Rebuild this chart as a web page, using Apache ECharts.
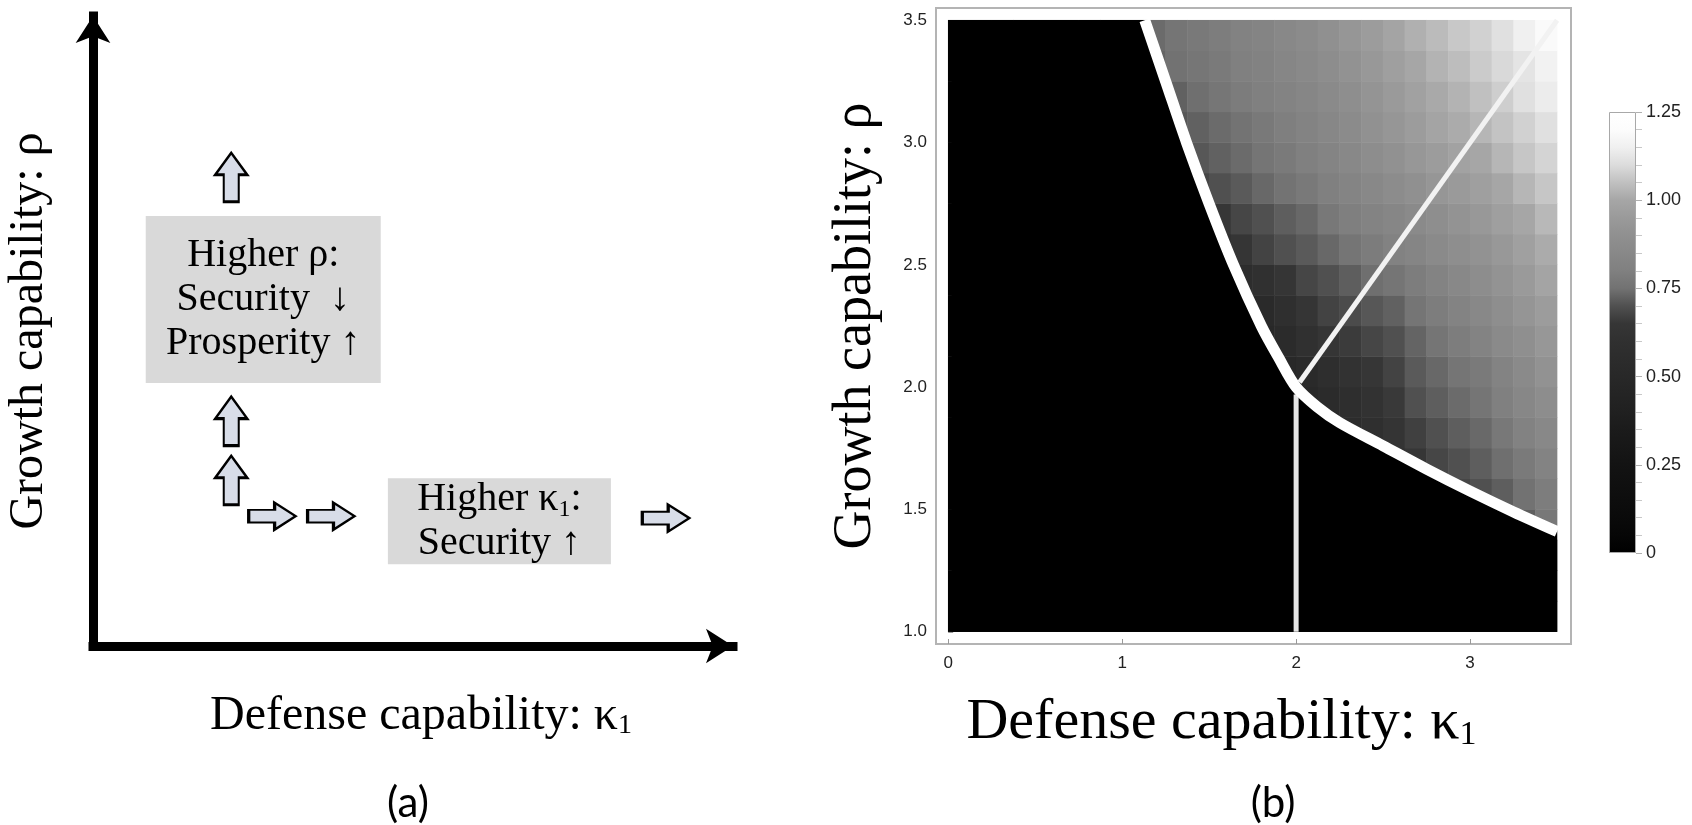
<!DOCTYPE html>
<html>
<head>
<meta charset="utf-8">
<script src="https://cdn.jsdelivr.net/npm/echarts@6.0.0/dist/echarts.min.js"></script>
<style>
  html, body { margin: 0; padding: 0; background: #fff; }
  #chart { width: 1692px; height: 825px; }
</style>
</head>
<body>
<div id="chart"></div>
<script>
// ---- panel (a): schematic ----
// block arrows [x, y, direction] in panel units (0..10)
const arrowsA = [
  [2.16, 7.44, 'up'],
  [2.16, 3.57, 'up'],
  [2.16, 2.63, 'up'],
  [2.80, 2.06, 'right'],
  [3.72, 2.06, 'right'],
  [8.95, 2.03, 'right']
]
const boxCentersA = [[2.66, 5.50], [6.35, 1.98]]
const boxTextsA = ['Higher ρ:\nSecurity  ↓\nProsperity ↑', 'Higher κ{s|1}:\nSecurity ↑']

// ---- panel (b): density plot ----
const kappaCenters = [0.0625, 0.1875, 0.3125, 0.4375, 0.5625, 0.6875, 0.8125, 0.9375, 1.0625, 1.1875, 1.3125, 1.4375, 1.5625, 1.6875,
  1.8125, 1.9375, 2.0625, 2.1875, 2.3125, 2.4375, 2.5625, 2.6875, 2.8125, 2.9375, 3.0625, 3.1875, 3.3125, 3.4375]
const rhoCenters = [1.0625, 1.1875, 1.3125, 1.4375, 1.5625, 1.6875, 1.8125, 1.9375, 2.0625, 2.1875,
  2.3125, 2.4375, 2.5625, 2.6875, 2.8125, 2.9375, 3.0625, 3.1875, 3.3125, 3.4375]
// shade[row of rho][col of kappa] (0 = black)
const shade = [
  [0,0,0,0,0,0,0,0,0,0,0,0,0,0,0,0,0,0,0,0,0,0,0,0,0,0,0,0],
  [0,0,0,0,0,0,0,0,0,0,0,0,0,0,0,0,0,0,0,0,0,0,0,0,0,0,0,0],
  [0,0,0,0,0,0,0,0,0,0,0,0,0,0,0,0,0,0,0,0,0,0,0,0,0,0,0,0],
  [0,0,0,0,0,0,0,0,0,0,0,0,0,0,0,0,0,0,0,0,0,0,0,0,0,.70,.72,.77],
  [0,0,0,0,0,0,0,0,0,0,0,0,0,0,0,0,0,0,0,0,0,0,.64,.68,.70,.72,.75,.79],
  [0,0,0,0,0,0,0,0,0,0,0,0,0,0,0,0,0,0,0,0,.60,.65,.68,.70,.72,.745,.78,.82],
  [0,0,0,0,0,0,0,0,0,0,0,0,0,0,0,0,0,.50,.55,.59,.63,.67,.70,.72,.737,.77,.81,.85],
  [0,0,0,0,0,0,0,0,0,0,0,0,0,0,0,0,.50,.54,.58,.62,.655,.70,.72,.74,.76,.80,.845,.88],
  [0,0,0,0,0,0,0,0,0,0,0,0,0,0,0,.50,.53,.58,.62,.65,.675,.715,.735,.76,.78,.82,.86,.91],
  [0,0,0,0,0,0,0,0,0,0,0,0,0,0,.50,.54,.60,.64,.66,.68,.70,.73,.76,.79,.82,.86,.895,.935],
  [0,0,0,0,0,0,0,0,0,0,0,0,0,.50,.52,.59,.645,.675,.69,.71,.725,.76,.79,.82,.85,.89,.925,.96],
  [0,0,0,0,0,0,0,0,0,0,0,0,0,.56,.60,.645,.68,.70,.72,.745,.76,.79,.82,.85,.88,.915,.95,.99],
  [0,0,0,0,0,0,0,0,0,0,0,0,.60,.64,.675,.70,.715,.735,.76,.785,.81,.83,.86,.885,.91,.94,.975,1.01],
  [0,0,0,0,0,0,0,0,0,0,0,0,.65,.68,.70,.72,.735,.77,.795,.82,.84,.86,.89,.915,.94,.97,1.00,1.035],
  [0,0,0,0,0,0,0,0,0,0,0,.68,.70,.715,.735,.755,.775,.80,.825,.85,.875,.90,.93,.95,.97,1.00,1.03,1.06],
  [0,0,0,0,0,0,0,0,0,0,.69,.71,.725,.74,.76,.78,.80,.825,.85,.88,.905,.935,.96,.985,1.00,1.03,1.06,1.085],
  [0,0,0,0,0,0,0,0,0,0,.71,.725,.74,.755,.775,.795,.82,.845,.87,.905,.93,.96,.99,1.01,1.03,1.055,1.08,1.11],
  [0,0,0,0,0,0,0,0,0,.72,.725,.745,.765,.785,.80,.82,.84,.865,.89,.92,.95,.98,1.005,1.025,1.05,1.075,1.11,1.14],
  [0,0,0,0,0,0,0,0,0,.73,.75,.765,.78,.80,.815,.835,.855,.88,.91,.94,.97,1.00,1.025,1.045,1.07,1.095,1.12,1.16],
  [0,0,0,0,0,0,0,0,0,.74,.76,.775,.79,.81,.825,.85,.87,.90,.93,.96,.99,1.02,1.04,1.065,1.08,1.11,1.15,1.19]
]
// white boundaries (kappa, rho)
const boundaryCurve = [[1.13, 3.5], [1.25, 3.25], [1.37, 3.0], [1.5, 2.75], [1.64, 2.5], [1.8, 2.25], [1.9, 2.12],
  [2.0, 2.0], [2.12, 1.92], [2.25, 1.855], [2.5, 1.76], [2.75, 1.665], [3.0, 1.575], [3.25, 1.49], [3.5, 1.41]]
const diagonalLine = [[2.02, 2.02], [3.5, 3.5]]
const verticalLine = [[2.0, 1.0], [2.0, 1.97]]
const blackCorners = [[3.5, 1.0], [0.02, 1.0], [0.02, 3.5]]

const xTicksB = [0, 1, 2, 3]
const yTicksB = [1.0, 1.5, 2.0, 2.5, 3.0, 3.5]
// colour scale, one stop every 0.05 from 0 to 1.25
const grayScale = ['#000000', '#060606', '#0a0a0a', '#0d0d0d', '#101010', '#131313', '#171717', '#1b1b1b', '#202020',
  '#242424', '#282828', '#2c2c2c', '#303030', '#363636', '#505050', '#727272', '#808080', '#888888', '#909090',
  '#9a9a9a', '#a6a6a6', '#c0c0c0', '#dcdcdc', '#f0f0f0', '#fcfcfc', '#ffffff']

const serif = 'Liberation Serif'
const sans = 'Liberation Sans'

const chart = echarts.init(document.getElementById('chart'))

const heatData = []
shade.forEach((row, j) => row.forEach((v, i) => heatData.push([i, j, v])))

const upPath = 'path://M16,0 L32,22 L23.5,22 L23.5,49 L8.5,49 L8.5,22 L0,22 Z'

// subscript style for rich text
const subRich = (size, lh) => ({ s: { fontFamily: serif, fontSize: size, lineHeight: lh, verticalAlign: 'bottom' } })

const option = {
  animation: false,
  backgroundColor: '#fff',
  grid: [
    { left: 93, top: 16, width: 640, height: 630 },
    { left: 936, top: 8, width: 635, height: 636, show: true, borderColor: '#b4b4b4', borderWidth: 2, backgroundColor: 'transparent' },
    { left: 948.2, top: 20.2, width: 608.9, height: 611.5 },
    { left: 1609, top: 112, width: 27, height: 441 }
  ],
  xAxis: [
    {
      gridIndex: 0, type: 'value', min: 0, max: 10,
      axisLine: { show: true, symbol: ['none', 'arrow'], symbolSize: [26, 27], lineStyle: { color: '#000', width: 9, cap: 'square' } },
      axisTick: { show: false }, axisLabel: { show: false }, splitLine: { show: false },
      name: 'Defense capability: κ{s|1}', nameLocation: 'middle', nameGap: 46,
      nameTextStyle: { fontFamily: serif, fontSize: 48, color: '#000', padding: [0, 0, 0, 16], rich: subRich(28, 18) }
    },
    {
      gridIndex: 1, type: 'value', min: -0.07, max: 3.58,
      axisLine: { show: false },
      axisTick: { show: true, inside: true, length: 5, lineStyle: { color: '#999' }, customValues: xTicksB },
      axisLabel: { customValues: xTicksB, fontFamily: sans, fontSize: 17, color: '#222', margin: 11 },
      splitLine: { show: false },
      name: 'Defense capability: κ{s|1}', nameLocation: 'middle', nameGap: 50,
      nameTextStyle: { fontFamily: serif, fontSize: 58, color: '#000', padding: [0, 64, 0, 0], rich: subRich(34, 22) }
    },
    { gridIndex: 2, type: 'category', data: kappaCenters, show: false },
    { gridIndex: 3, type: 'category', data: [''], show: false }
  ],
  yAxis: [
    {
      gridIndex: 0, type: 'value', min: 0, max: 10,
      axisLine: { show: true, symbol: ['none', 'arrow'], symbolSize: [26, 27], lineStyle: { color: '#000', width: 9, cap: 'square' } },
      axisTick: { show: false }, axisLabel: { show: false }, splitLine: { show: false },
      name: 'Growth capability: ρ', nameLocation: 'middle', nameGap: 40,
      nameTextStyle: { fontFamily: serif, fontSize: 48, color: '#000' }
    },
    {
      gridIndex: 1, type: 'value', min: 0.95, max: 3.55,
      axisLine: { show: false },
      axisTick: { show: true, inside: true, length: 5, lineStyle: { color: '#999' }, customValues: yTicksB },
      axisLabel: { customValues: yTicksB, fontFamily: sans, fontSize: 17, color: '#222', margin: 9, formatter: v => v.toFixed(1) },
      splitLine: { show: false },
      name: 'Growth capability: ρ', nameLocation: 'middle', nameGap: 53,
      nameTextStyle: { fontFamily: serif, fontSize: 54, color: '#000' }
    },
    { gridIndex: 2, type: 'category', data: rhoCenters, show: false },
    {
      gridIndex: 3, type: 'value', position: 'right', min: 0, max: 1.25, interval: 0.25,
      axisLine: { show: false },
      axisTick: { show: true, length: 6, lineStyle: { color: '#b0b0b0' } },
      minorTick: { show: true, splitNumber: 5, length: 6, lineStyle: { color: '#c8c8c8' } },
      axisLabel: { fontFamily: sans, fontSize: 18, color: '#222', margin: 10, formatter: v => v === 0 ? '0' : v.toFixed(2) },
      splitLine: { show: false }, minorSplitLine: { show: false }
    }
  ],
  visualMap: {
    show: false, type: 'continuous', seriesIndex: 0, min: 0, max: 1.25,
    inRange: { color: grayScale }
  },
  graphic: [
    { type: 'text', x: 408, y: 803, style: { text: '(a)', fontFamily: 'Lato', fontSize: 42, fill: '#000', align: 'center', verticalAlign: 'middle' } },
    { type: 'text', x: 1273, y: 803, style: { text: '(b)', fontFamily: 'Lato', fontSize: 42, fill: '#000', align: 'center', verticalAlign: 'middle' } }
  ],
  series: [
    {
      type: 'heatmap', xAxisIndex: 2, yAxisIndex: 2, data: heatData, silent: true, z: 1,
      itemStyle: { borderWidth: 0 }
    },
    {
      type: 'custom', xAxisIndex: 1, yAxisIndex: 1, data: [[1, 1]], silent: true, z: 3,
      renderItem: (params, api) => ({
        type: 'polygon',
        shape: { points: boundaryCurve.concat(blackCorners).map(p => api.coord(p)), smooth: 0 },
        style: { fill: '#000' }
      })
    },
    {
      type: 'line', xAxisIndex: 1, yAxisIndex: 1, data: verticalLine, showSymbol: false, silent: true, z: 4,
      lineStyle: { color: '#e6e6e6', width: 5 }
    },
    {
      type: 'line', xAxisIndex: 1, yAxisIndex: 1, data: diagonalLine, showSymbol: false, silent: true, z: 4,
      lineStyle: { color: '#f2f2f2', width: 5 }
    },
    {
      type: 'line', xAxisIndex: 1, yAxisIndex: 1, data: boundaryCurve, showSymbol: false, silent: true, z: 5,
      smooth: 0.3, lineStyle: { color: '#fff', width: 11 }
    },
    {
      type: 'bar', xAxisIndex: 3, yAxisIndex: 3, data: [1.25], barWidth: '100%', silent: true,
      itemStyle: {
        color: new echarts.graphic.LinearGradient(0, 1, 0, 0,
          grayScale.map((c, idx) => ({ offset: idx / (grayScale.length - 1), color: c }))),
        borderColor: '#a8a8a8', borderWidth: 1
      }
    },
    {
      type: 'scatter', xAxisIndex: 0, yAxisIndex: 0, silent: true, z: 3,
      data: boxCentersA.map((c, idx) => ({ value: c, name: boxTextsA[idx], symbolSize: idx === 0 ? [235, 167] : [223, 86] })),
      symbol: 'rect',
      itemStyle: { color: '#d9d9d9', opacity: 1 },
      label: {
        show: true, position: 'inside', formatter: p => p.name, color: '#000',
        fontFamily: serif, fontSize: 40, lineHeight: 44, rich: subRich(24, 22)
      }
    },
    {
      type: 'scatter', xAxisIndex: 0, yAxisIndex: 0, silent: true, z: 4,
      data: arrowsA.map(a => ({
        value: [a[0], a[1]],
        symbolRotate: a[2] === 'up' ? 0 : -90,
        symbolSize: a[2] === 'up' ? [32, 49] : [27, 47]
      })),
      symbol: upPath,
      itemStyle: { color: '#d8dde8', borderColor: '#000', borderWidth: 2.5, opacity: 1 }
    }
  ]
}

chart.setOption(option)
</script>
</body>
</html>
